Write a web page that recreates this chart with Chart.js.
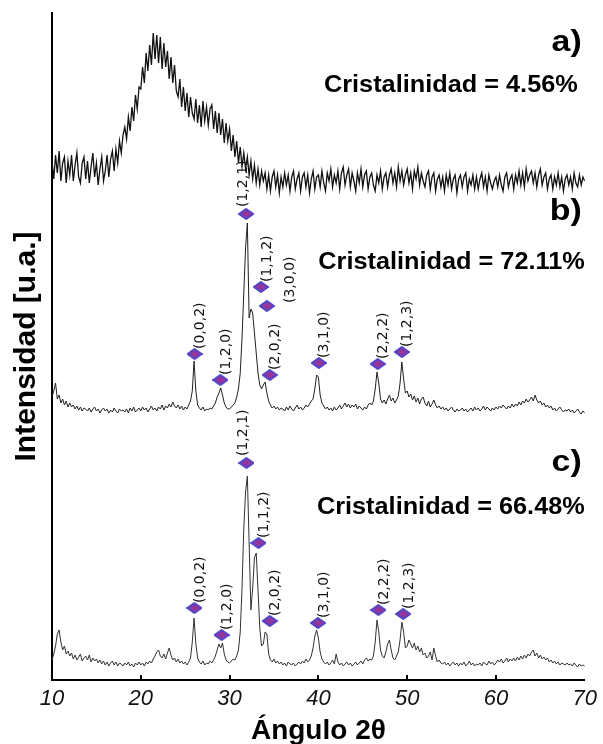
<!DOCTYPE html>
<html>
<head>
<meta charset="utf-8">
<script src="https://cdn.jsdelivr.net/npm/chart.js@4.4.1/dist/chart.umd.min.js"></script>
<style>
  html, body { margin: 0; padding: 0; background: #fff; }
  canvas { display: block; }
</style>
</head>
<body>
<canvas id="xrdChart" width="603" height="744"></canvas>
<script>
// 2θ grid of the scans
const angleStart = 10;
const angleStep = 0.2;
const xTicks = [10, 20, 30, 40, 50, 60, 70];

// vertical shift of each pattern (u.a.)
const offsetA = 497;
const offsetB = 267;
const offsetC = 12;

// a) amorphous sample
const intensityA = [
  22, 4, 28, 10, 32, 2, 20, 26, 0, 22,
  8, 28, 2, 18, 30, 6, 0, 20, 26, 4,
  22, 0, 16, 30, 6, 20, -2, 14, 26, 2,
  12, 28, 6, 24, 32, 12, 34, 20, 42, 30,
  48, 56, 44, 66, 52, 76, 62, 88, 74, 96,
  94, 116, 100, 130, 112, 138, 118, 150, 124, 148,
  120, 146, 114, 140, 116, 132, 104, 126, 100, 118,
  92, 86, 104, 76, 96, 72, 90, 66, 86, 70,
  64, 84, 60, 78, 56, 82, 62, 76, 58, 74,
  78, 54, 72, 50, 70, 48, 64, 40, 60, 42,
  54, 32, 48, 26, 42, 20, 36, 16, 30, 14,
  26, 8, 22, 4, 18, 0, 14, -2, 12, 2,
  10, -6, 8, -8, 6, 12, -4, 8, -10, 6,
  -4, 10, -2, 8, -8, 6, 12, -6, 4, 10,
  -8, 6, 10, -4, 8, -10, 4, 12, -6, 6,
  8, -4, 12, 0, -8, 10, 2, 14, -4, 8,
  0, 12, -6, 10, 16, -2, 8, 14, -4, 10,
  2, -8, 10, 0, 14, -4, 8, 12, -6, 6,
  10, -2, -8, 8, 0, 12, -6, 6, 10, -4,
  8, 14, 0, 10, -4, 16, 2, 12, -2, 8,
  14, 0, 10, -6, 12, 4, 16, -2, 10, 2,
  -4, 8, 12, -6, 6, 10, -8, 4, 8, -4,
  6, -8, 8, -2, 10, -6, 4, 8, -10, 4,
  8, -4, 6, 10, -8, 4, -2, 8, -6, 6,
  -6, 4, 10, -4, 6, -8, 8, 0, -6, 2,
  6, -4, 8, -2, -8, 6, 10, -4, 4, 8,
  -6, 8, 0, 12, -2, 10, -4, 14, 2, 8,
  12, 0, 10, -4, 8, 14, -2, 6, 10, -6,
  4, 8, -6, 6, -2, 10, -4, 6, -8, 4,
  8, -2, 6, -6, 10, 0, -4, 8, -2, 6,
  2
];

// b) sample with 72.11 % crystallinity
const intensityB = [
  16, 22, 30, 14, 18, 10, 14, 8, 12, 6,
  10, 6, 8, 4, 7, 3, 6, 2, 5, 4,
  2, 5, 1, 4, 6, 2, 4, 0, 3, 5,
  2, 4, 0, 3, 1, 5, 2, 0, 4, 2,
  3, 1, 4, 0, 5, 2, 6, 1, 3, 5,
  2, 6, 3, 5, 1, 4, 7, 3, 5, 2,
  6, 4, 8, 3, 7, 5, 9, 6, 11, 7,
  5, 8, 4, 7, 3, 6, 4, 8, 12, 22,
  52, 22, 8, 5, 3, 6, 2, 4, 3, 5,
  4, 7, 10, 16, 20, 25, 18, 10, 6, 4,
  4, 6, 8, 10, 16, 24, 40, 75, 120, 165,
  190, 95, 104, 100, 80, 60, 40, 28, 24, 28,
  31, 20, 12, 8, 5, 7, 4, 6, 3, 5,
  4, 2, 6, 3, 7, 4, 2, 5, 8, 4,
  6, 3, 5, 8, 6, 9, 12, 14, 24, 38,
  36, 18, 10, 7, 4, 6, 3, 5, 2, 6,
  3, 5, 8, 4, 7, 10, 6, 9, 5, 8,
  6, 9, 4, 7, 5, 3, 6, 4, 8, 10,
  8, 12, 24, 41, 30, 14, 10, 13, 9, 14,
  18, 12, 15, 10, 13, 17, 30, 51, 34, 20,
  22, 16, 19, 13, 17, 11, 15, 9, 14, 16,
  10, 7, 12, 6, 9, 13, 8, 5, 7, 4,
  6, 3, 5, 2, 4, 6, 3, 1, 4, 2,
  3, 5, 2, 4, 1, 3, 5, 2, 6, 3,
  5, 2, 4, 7, 3, 6, 4, 2, 5, 3,
  6, 4, 7, 5, 8, 6, 4, 7, 5, 9,
  6, 9, 7, 11, 8, 12, 10, 14, 11, 13,
  16, 12, 18, 13, 10, 12, 8, 10, 6, 8,
  5, 7, 3, 5, 2, 4, 6, 3, 1, 3,
  2, 4, 1, 3, 0, 2, 4, 1, -1, 2,
  0
];

// c) sample with 66.48 % crystallinity
const intensityC = [
  8, 14, 22, 34, 38, 26, 18, 22, 14, 17,
  12, 15, 9, 13, 8, 11, 14, 7, 10, 12,
  8, 13, 6, 10, 7, 9, 5, 8, 4, 7,
  3, 6, 2, 5, 7, 3, 6, 2, 5, 4,
  2, 5, 3, 6, 2, 4, 1, 5, 3, 6,
  3, 5, 2, 6, 4, 7, 5, 9, 12, 16,
  18, 12, 10, 14, 9, 15, 20, 13, 8, 10,
  6, 9, 5, 7, 4, 6, 3, 6, 10, 26,
  50, 24, 10, 6, 4, 7, 3, 5, 4, 7,
  5, 8, 12, 18, 24, 20, 25, 14, 8, 6,
  5, 7, 9, 8, 12, 18, 36, 80, 140, 176,
  192, 125, 58, 80, 110, 115, 78, 40, 22, 24,
  36, 34, 14, 8, 6, 9, 5, 7, 4, 6,
  3, 5, 2, 6, 4, 3, 5, 2, 4, 6,
  4, 7, 5, 9, 6, 8, 12, 20, 32, 38,
  30, 16, 9, 6, 4, 6, 3, 5, 8, 4,
  14, 6, 3, 5, 2, 4, 6, 3, 5, 2,
  4, 6, 3, 5, 7, 4, 8, 10, 7, 9,
  8, 12, 26, 48, 36, 18, 12, 10, 16, 24,
  28, 18, 10, 8, 12, 16, 28, 46, 36, 20,
  22, 28, 24, 20, 25, 18, 22, 16, 20, 13,
  15, 10, 12, 16, 8, 20, 12, 6, 8, 5,
  4, 6, 3, 5, 2, 4, 6, 3, 5, 2,
  5, 3, 6, 2, 4, 7, 3, 5, 2, 4,
  3, 5, 2, 6, 4, 3, 7, 4, 6, 3,
  5, 8, 6, 9, 5, 7, 10, 6, 9, 7,
  10, 7, 11, 8, 12, 9, 13, 10, 14, 12,
  16, 18, 12, 15, 10, 13, 9, 11, 8, 10,
  6, 8, 5, 7, 4, 6, 3, 5, 4, 3,
  5, 3, 4, 2, 5, 3, 1, 4, 2, 3,
  2
];

// Miller indices marked with diamonds
const peakLabelsB = ['(0,0,2)', '(1,2,0)', '(1,2,1)', '(1,1,2)', '(3,0,0)', '(2,0,2)', '(3,1,0)', '(2,2,2)', '(1,2,3)'];
const peakAnglesB = [26.06, 28.96, 31.86, 33.53, 34.2, 34.53, 40.05, 46.69, 49.4];
const peakMarksB = [59, 33, 199, 126, 107, 38, 50, 49, 61];

const peakLabelsC = ['(0,0,2)', '(1,2,0)', '(1,2,1)', '(1,1,2)', '(2,0,2)', '(3,1,0)', '(2,2,2)', '(1,2,3)'];
const peakAnglesC = [26.03, 29.1, 31.9, 33.25, 34.53, 39.95, 46.75, 49.55];
const peakMarksC = [60, 33, 205, 125, 47, 45, 58, 54];

const panelLetters = ['a)', 'b)', 'c)'];
const crystallinity = ['4.56', '72.11', '66.48'];

// helpers
function toPoints(values, offset) {
  return values.map((v, i) => ({ x: angleStart + i * angleStep, y: offset + v }));
}
function markPoints(angles, marks, offset) {
  return angles.map((a, i) => ({ x: a, y: offset + marks[i] }));
}

// flattened diamond marker
function makeDiamond() {
  const c = document.createElement('canvas');
  c.width = 16;
  c.height = 12;
  const g = c.getContext('2d');
  g.beginPath();
  g.moveTo(8, 0.8);
  g.lineTo(15.2, 6);
  g.lineTo(8, 11.2);
  g.lineTo(0.8, 6);
  g.closePath();
  g.fillStyle = '#94359c';
  g.fill();
  g.lineWidth = 1.6;
  g.strokeStyle = '#4646d8';
  g.stroke();
  return c;
}
const diamond = makeDiamond();

// peak labels, panel letters and crystallinity text
const annotations = {
  id: 'annotations',
  afterDatasetsDraw(chart) {
    const ctx = chart.ctx;
    const sets = [
      { meta: chart.getDatasetMeta(3), labels: peakLabelsB },
      { meta: chart.getDatasetMeta(4), labels: peakLabelsC }
    ];
    ctx.save();
    ctx.fillStyle = '#111';
    ctx.font = '14px "DejaVu Sans"';
    ctx.textAlign = 'left';
    ctx.textBaseline = 'middle';
    sets.forEach(s => {
      s.meta.data.forEach((pt, i) => {
        const txt = s.labels[i];
        let dx = 6, dy = -5;
        if (txt === '(1,2,1)') { dx = -3; dy = -7; }
        if (txt === '(3,0,0)') { dx = 23; dy = -3; }
        ctx.save();
        ctx.translate(pt.x + dx, pt.y + dy);
        ctx.rotate(-Math.PI / 2);
        ctx.fillText(txt, 0, 0);
        ctx.restore();
      });
    });
    ctx.restore();

    // inside tick marks on the 2θ axis
    const xs = chart.scales.x;
    ctx.save();
    ctx.strokeStyle = '#000';
    ctx.lineWidth = 2;
    xTicks.slice(1, -1).forEach(t => {
      const px = Math.round(xs.getPixelForValue(t));
      ctx.beginPath();
      ctx.moveTo(px, chart.chartArea.bottom);
      ctx.lineTo(px, chart.chartArea.bottom - 5);
      ctx.stroke();
    });
    ctx.restore();

    const right = chart.chartArea.right;
    const letterY = [43, 212, 463];
    const textY = [86, 263, 508];
    const textRight = [right - 7, right, right];
    ctx.save();
    ctx.fillStyle = '#000';
    ctx.textAlign = 'right';
    ctx.textBaseline = 'middle';
    for (let i = 0; i < 3; i++) {
      ctx.save();
      ctx.translate(right - 3, letterY[i]);
      ctx.scale(1.13, 1);
      ctx.font = 'bold 30px "Liberation Sans"';
      ctx.fillText(panelLetters[i], 0, 0);
      ctx.restore();

      ctx.save();
      ctx.translate(textRight[i], textY[i]);
      ctx.scale(1.1, 1);
      ctx.font = 'bold 23px "Liberation Sans"';
      ctx.fillText('Cristalinidad = ' + crystallinity[i] + '%', 0, 0);
      ctx.restore();
    }
    ctx.restore();
  }
};

const ctx = document.getElementById('xrdChart').getContext('2d');
const xrdChart = new Chart(ctx, {
  type: 'scatter',
  data: {
    datasets: [
      {
        label: 'a)',
        data: toPoints(intensityA, offsetA),
        showLine: true,
        borderColor: '#111',
        borderWidth: 1.3,
        pointRadius: 0,
        tension: 0
      },
      {
        label: 'b)',
        data: toPoints(intensityB, offsetB),
        showLine: true,
        borderColor: '#222',
        borderWidth: 1,
        pointRadius: 0,
        tension: 0
      },
      {
        label: 'c)',
        data: toPoints(intensityC, offsetC),
        showLine: true,
        borderColor: '#333',
        borderWidth: 1,
        pointRadius: 0,
        tension: 0
      },
      {
        label: 'picos b)',
        data: markPoints(peakAnglesB, peakMarksB, offsetB),
        pointStyle: diamond,
        pointRadius: 7
      },
      {
        label: 'picos c)',
        data: markPoints(peakAnglesC, peakMarksC, offsetC),
        pointStyle: diamond,
        pointRadius: 7
      }
    ]
  },
  options: {
    responsive: false,
    animation: false,
    devicePixelRatio: 1,
    layout: { padding: { top: 13, right: 13, left: 0, bottom: 0 } },
    plugins: {
      legend: { display: false },
      tooltip: { enabled: false }
    },
    scales: {
      x: {
        type: 'linear',
        min: 10,
        max: 70,
        afterBuildTicks(scale) {
          scale.ticks = xTicks.map(v => ({ value: v }));
        },
        afterFit(scale) { scale.height = 64; },
        grid: { display: false, drawTicks: false },
        border: { display: true, color: '#000', width: 2 },
        ticks: {
          color: '#111',
          padding: 6,
          maxRotation: 0,
          font: { family: 'Liberation Sans', size: 22, style: 'italic' }
        },
        title: {
          display: true,
          text: 'Ángulo 2θ',
          color: '#000',
          padding: { top: 0, bottom: -4 },
          font: { family: 'Liberation Sans', size: 28, weight: 'bold' }
        }
      },
      y: {
        min: 0,
        max: 667,
        afterFit(scale) { scale.width = 52; },
        grid: { display: false, drawTicks: false },
        border: { display: true, color: '#000', width: 2 },
        ticks: { display: false },
        title: {
          display: true,
          text: 'Intensidad [u.a.]',
          color: '#000',
          padding: { top: 9, bottom: 0 },
          font: { family: 'Liberation Sans', size: 30, weight: 'bold' }
        }
      }
    }
  },
  plugins: [annotations]
});
</script>
</body>
</html>
